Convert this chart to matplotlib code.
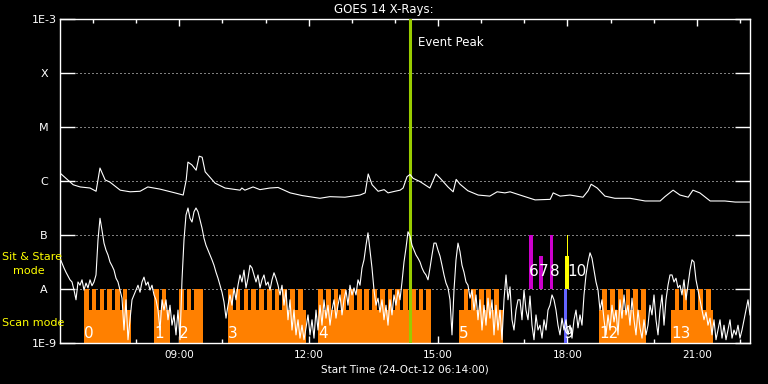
import numpy as np
import matplotlib
matplotlib.use('Agg')
from matplotlib import pyplot as plt
from matplotlib.ticker import FixedLocator, MultipleLocator, NullLocator, FuncFormatter

# time range: 24-Oct-12 06:14 to 22:14 UT, in decimal hours
t_start = 6 + 14 / 60
t_end = t_start + 16

# long channel (1-8 A): time [h], log10 flux [W/m^2]
long_t = [6.23, 6.54, 6.70, 6.93, 7.07, 7.16, 7.28, 7.39, 7.63, 7.86, 8.09, 8.27, 8.55, 8.90,
          9.09, 9.16, 9.20, 9.29, 9.39, 9.46, 9.53, 9.60, 9.71, 9.83, 10.06, 10.41, 10.45,
          10.52, 10.71, 10.87, 11.10, 11.29, 11.57, 11.85, 12.26, 12.49, 12.84, 13.19, 13.31,
          13.38, 13.47, 13.61, 13.75, 13.84, 14.00, 14.12, 14.19, 14.28, 14.35, 14.42, 14.58,
          14.81, 14.95, 15.05, 15.23, 15.35, 15.42, 15.51, 15.69, 15.93, 16.20, 16.37, 16.55,
          16.67, 16.90, 17.25, 17.60, 17.67, 17.83, 18.06, 18.36, 18.48, 18.55, 18.69, 18.87,
          19.10, 19.45, 19.80, 20.15, 20.26, 20.45, 20.61, 20.80, 20.91, 21.07, 21.31, 21.65,
          21.89, 22.23]
long_log = [-5.85, -6.07, -6.11, -6.13, -6.19, -5.76, -5.98, -6.02, -6.17, -6.20, -6.19, -6.11,
            -6.15, -6.22, -6.26, -5.98, -5.65, -5.70, -5.80, -5.54, -5.56, -5.83, -5.93, -6.04,
            -6.13, -6.17, -6.13, -6.17, -6.11, -6.16, -6.13, -6.12, -6.22, -6.27, -6.32, -6.29,
            -6.30, -6.26, -6.22, -5.87, -6.07, -6.19, -6.16, -6.22, -6.19, -6.17, -6.13, -5.92,
            -5.88, -5.95, -6.01, -6.13, -5.87, -5.95, -6.11, -6.20, -5.97, -6.06, -6.18, -6.26,
            -6.28, -6.20, -6.22, -6.20, -6.26, -6.35, -6.34, -6.22, -6.28, -6.26, -6.30, -6.18,
            -6.06, -6.13, -6.28, -6.32, -6.32, -6.37, -6.37, -6.29, -6.17, -6.26, -6.30, -6.17,
            -6.22, -6.37, -6.37, -6.39, -6.39]

# short channel (0.5-4 A): regular cadence over the whole range, log10 flux
short_log = [-7.43, -7.52, -7.61, -7.69, -7.76, -7.83, -7.87, -8.02, -8.20, -7.87, -7.93, -7.83,
             -8.02, -7.89, -7.98, -7.83, -7.94, -7.87, -7.74, -7.09, -6.69, -6.91, -7.15, -7.28,
             -7.37, -7.50, -7.57, -7.65, -7.80, -7.87, -8.02, -8.17, -8.76, -8.20, -8.94, -8.57,
             -8.20, -8.11, -8.02, -7.93, -8.06, -7.87, -7.78, -7.93, -7.87, -8.02, -7.93, -8.11,
             -8.20, -8.39, -8.76, -8.20, -8.39, -8.20, -8.57, -8.30, -8.67, -8.48, -8.85, -8.39,
             -8.94, -7.83, -7.09, -6.63, -6.50, -6.69, -6.76, -6.57, -6.50, -6.57, -6.72, -6.87,
             -7.06, -7.19, -7.28, -7.37, -7.46, -7.56, -7.69, -7.80, -7.93, -8.06, -8.24, -8.54,
             -8.30, -8.11, -8.30, -7.98, -8.20, -7.93, -7.74, -7.87, -7.65, -7.98, -7.80, -7.56,
             -7.61, -7.74, -7.87, -7.74, -7.98, -7.83, -7.74, -7.93, -7.87, -8.02, -7.83, -7.70,
             -7.80, -7.93, -8.11, -7.93, -8.30, -8.02, -8.57, -8.20, -8.76, -8.39, -8.85, -8.57,
             -8.91, -8.67, -8.94, -8.72, -8.48, -8.85, -8.57, -8.91, -8.39, -8.76, -8.30, -8.67,
             -8.20, -8.54, -8.30, -8.67, -8.39, -8.20, -8.54, -8.30, -8.11, -8.48, -8.20, -8.02,
             -8.30, -7.93, -8.11, -7.98, -8.11, -7.83, -7.93, -7.61, -7.46, -7.19, -6.96, -7.28,
             -7.61, -8.02, -8.30, -8.17, -8.43, -8.20, -8.57, -8.30, -8.67, -8.20, -8.48, -8.11,
             -8.30, -8.02, -8.20, -7.87, -7.50, -7.24, -6.94, -7.02, -7.19, -7.28, -7.37, -7.43,
             -7.50, -7.61, -7.69, -7.74, -7.83, -7.61, -7.37, -7.15, -7.15, -7.28, -7.39, -7.56,
             -7.74, -7.89, -7.98, -8.20, -8.85, -8.02, -7.46, -7.15, -7.31, -7.56, -7.69, -7.87,
             -7.93, -8.17, -8.02, -8.39, -8.11, -8.57, -8.20, -8.76, -8.30, -8.67, -8.17, -8.54,
             -8.20, -8.85, -8.30, -8.76, -8.39, -8.94, -8.20, -7.74, -8.20, -7.96, -8.57, -8.76,
             -8.39, -8.20, -8.20, -8.57, -8.02, -8.39, -8.57, -8.13, -8.67, -8.94, -8.48, -8.76,
             -8.67, -8.91, -8.57, -8.76, -8.39, -8.30, -8.11, -8.20, -8.39, -8.67, -8.85, -8.54,
             -8.76, -8.57, -8.85, -8.67, -8.91, -8.57, -8.39, -8.72, -8.48, -8.67, -8.11, -7.74,
             -7.50, -7.33, -7.43, -7.65, -7.87, -8.02, -8.39, -8.20, -8.57, -8.85, -8.48, -8.76,
             -8.30, -8.61, -8.39, -8.85, -8.20, -8.54, -8.11, -8.48, -8.30, -8.67, -8.17, -8.57,
             -8.85, -8.39, -8.72, -8.91, -8.57, -8.85, -8.67, -8.30, -8.48, -8.11, -8.57, -8.85,
             -8.39, -8.11, -8.67, -8.20, -7.93, -7.74, -7.74, -7.87, -7.80, -7.98, -7.93, -8.11,
             -7.83, -8.20, -7.93, -7.65, -7.46, -7.50, -7.83, -8.02, -8.20, -8.39, -8.57, -8.43,
             -8.67, -8.54, -8.85, -8.57, -8.94, -8.76, -8.57, -8.91, -8.67, -8.94, -8.76, -8.57,
             -8.91, -8.76, -8.85, -8.67, -8.91, -8.76, -8.57, -8.39, -8.20, -8.48]

# scan mode observations: start, end [h] and label
scan_start = [6.79, 8.41, 8.99, 10.13, 12.22, 15.49, 18.73, 20.40]
scan_end = [7.88, 8.78, 9.55, 11.94, 14.84, 16.51, 19.82, 21.38]
scan_label = ['0', '1', '2', '3', '4', '5', '12', '13']
# raster step start times [h]
scan_steps = [6.79, 6.97, 7.15, 7.33, 7.51, 7.69,
              8.41, 8.59,
              8.99, 9.17, 9.35, 9.44,
              10.13, 10.31, 10.49, 10.67, 10.85, 11.03, 11.21, 11.39, 11.57, 11.75,
              12.22, 12.40, 12.58, 12.76, 12.94, 13.12, 13.29, 13.47, 13.65, 13.83, 14.01,
              14.19, 14.37, 14.55, 14.73,
              15.59, 15.77, 15.95, 16.12, 16.30,
              18.81, 18.99, 19.17, 19.35, 19.53, 19.71,
              20.49, 20.67, 20.85, 21.03, 21.21]
step_len = 0.108

# sit & stare observations
ss_start = [17.11, 17.34, 17.60, 17.91, 17.94, 18.00]
ss_end = [17.20, 17.43, 17.67, 17.99, 18.03, 18.02]
ss_low = [1e-8, 1e-8, 1e-8, 1e-9, 1e-8, 1e-8]
ss_high = [1e-7, 4.1e-8, 1e-7, 1e-8, 4.1e-8, 1e-7]
ss_color = ['#cc00cc', '#cc00cc', '#cc00cc', '#6464ff', '#ffff00', '#ffff00']
ss_label = ['6', '7', '8', '9', '', '10']

event_peak = 14.34

levels = [1e-9, 1e-8, 1e-7, 1e-6, 1e-5, 1e-4, 1e-3]
level_names = ['1E-9', 'A', 'B', 'C', 'M', 'X', '1E-3']
hour_ticks = [9, 12, 15, 18, 21]

orange = '#ff8000'
fig = plt.figure(figsize=(7.68, 3.84), dpi=100, facecolor='black')
ax = fig.add_axes([60 / 768, 41 / 384, 690 / 768, 324 / 384])
ax.set_facecolor('black')
ax.set_yscale('log')
ax.set_xlim(t_start, t_end)
ax.set_ylim(1e-9, 1e-3)

# scan mode blocks
ax.bar(scan_start, 4.1e-9 - 1e-9, width=np.array(scan_end) - np.array(scan_start),
       bottom=1e-9, align='edge', color=orange, lw=0, antialiased=False, zorder=2)
ax.bar(scan_steps, 1e-8 - 1e-9, width=step_len, bottom=1e-9, align='edge',
       color=orange, lw=0, antialiased=False, zorder=2)
for s, lab in zip(scan_start, scan_label):
    ax.text(s, 1.5e-9, lab, color='white', fontsize=11, ha='left', va='center', zorder=5)

# sit & stare
for s, e, lo, hi, c, lab in zip(ss_start, ss_end, ss_low, ss_high, ss_color, ss_label):
    ax.bar(s, hi - lo, width=e - s, bottom=lo, align='edge', color=c, lw=0,
           antialiased=False, zorder=3)
    if lab:
        y = 1.5e-9 if lo < 1e-8 else 2.07e-8
        ax.text(s, y, lab, color='white', fontsize=11, ha='left', va='center', zorder=5)

# event peak
ax.axvline(event_peak, color='#99cc00', lw=2.2, zorder=4)
ax.annotate('Event Peak', xy=(event_peak, 3.6e-4), xytext=(6, 0), textcoords='offset points',
            color='white', fontsize=8.5, va='center', ha='left')

# flux curves
ax.plot(long_t, 10 ** np.array(long_log), color='white', lw=0.8, zorder=6)
t_short = np.linspace(t_start, t_end, len(short_log))
ax.plot(t_short, 10 ** np.array(short_log), color='white', lw=0.8, zorder=6)

# axes styling
for sp in ax.spines.values():
    sp.set_color('white')
    sp.set_linewidth(1)
ax.yaxis.set_major_locator(FixedLocator(levels))
ax.yaxis.set_minor_locator(NullLocator())
ax.set_yticklabels(level_names)
ax.tick_params(axis='y', which='major', left=True, right=True, direction='in', length=10.5,
               width=1, color='white', labelcolor='white', labelsize=8, pad=11.5)
for lab in ax.get_yticklabels():
    lab.set_horizontalalignment('center')
ax.grid(axis='y', which='major', color='white', linestyle=(0, (1, 3)), lw=0.72, zorder=1)

ax.xaxis.set_major_locator(FixedLocator(hour_ticks))
ax.xaxis.set_minor_locator(MultipleLocator(1))
ax.xaxis.set_major_formatter(FuncFormatter(lambda v, p: '%02d:00' % v))
ax.tick_params(axis='x', which='major', top=True, bottom=True, direction='in', length=5,
               width=1, color='white', labelcolor='white', labelsize=7.5, pad=5)
ax.tick_params(axis='x', which='minor', top=True, bottom=True, direction='in', length=3,
               width=1, color='white')
ax.set_xlabel('Start Time (24-Oct-12 06:14:00)', color='white', fontsize=7.5, labelpad=3)

fig.text(0.5, 1 - 9 / 384, 'GOES 14 X-Rays:', ha='center', va='center', color='white',
         fontsize=8.5)
fig.text(2 / 768, 1 - 257 / 384, 'Sit & Stare', ha='left', va='center', color='#ffff00',
         fontsize=8)
fig.text(13 / 768, 1 - 271 / 384, 'mode', ha='left', va='center', color='#ffff00', fontsize=8)
fig.text(2 / 768, 1 - 323 / 384, 'Scan mode', ha='left', va='center', color='#ffff00',
         fontsize=8)

fig.savefig('out.png', dpi=100, facecolor='black')
